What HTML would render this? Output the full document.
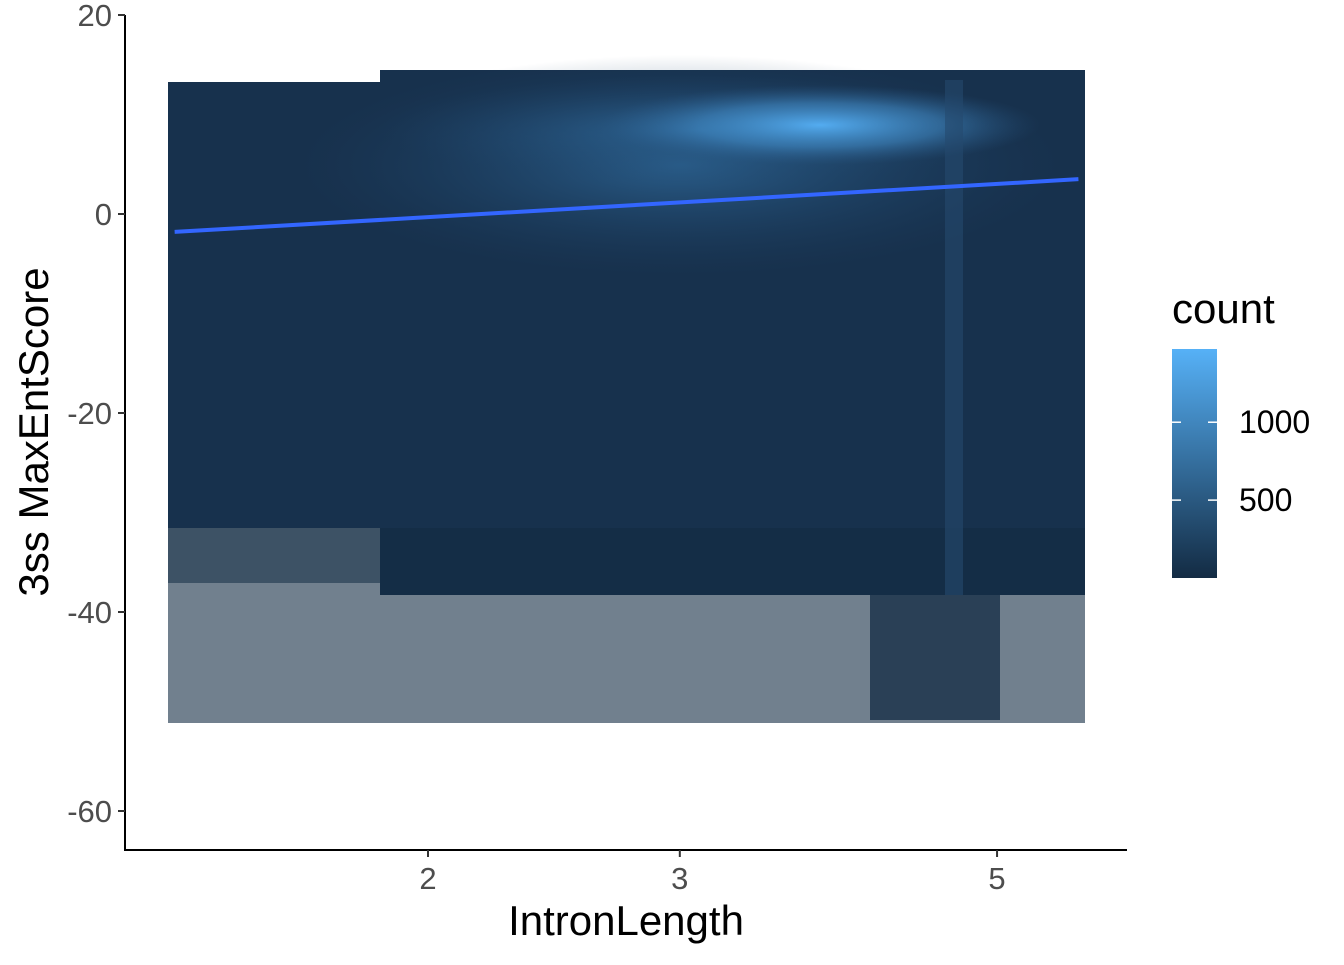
<!DOCTYPE html>
<html><head><meta charset="utf-8"><style>
body{margin:0;background:#fff;}
svg text{font-family:"Liberation Sans",sans-serif;}
</style></head><body>
<svg id="chart" width="1344" height="960" viewBox="0 0 1344 960">
<defs>
<radialGradient id="glow" cx="0.5" cy="0.5" r="0.5">
<stop offset="0" stop-color="#56B1F7" stop-opacity="0.95"/>
<stop offset="0.55" stop-color="#3f86c0" stop-opacity="0.6"/>
<stop offset="1" stop-color="#2a5a88" stop-opacity="0"/>
</radialGradient>
<radialGradient id="glow2" cx="0.5" cy="0.5" r="0.5">
<stop offset="0" stop-color="#2f6a9c" stop-opacity="0.8"/>
<stop offset="1" stop-color="#1e4266" stop-opacity="0"/>
</radialGradient>
<linearGradient id="cbar" x1="0" y1="1" x2="0" y2="0">
<stop offset="0" stop-color="#132B43"/>
<stop offset="1" stop-color="#56B1F7"/>
</linearGradient>
</defs>
<g id="plot"></g>
<g id="axes"></g>
<text x="626" y="935" font-size="42" text-anchor="middle" fill="#000">IntronLength</text>
<text transform="translate(48,432) rotate(-90)" font-size="42" text-anchor="middle" fill="#000">3ss MaxEntScore</text>
<g>
<text x="1172" y="323" font-size="42" fill="#000">count</text>
<rect x="1172" y="349" width="45" height="229" fill="url(#cbar)"/>
<g id="legendTicks"></g>
</g>
</svg>
<script>
const yTicks=[20,0,-20,-40,-60];
const xTicks=[2,3,5];
const lineX=[1.33,5.7];
const lineY=[-1.8,3.5];
const legendTicks=[500,1000];
const countMin=0, countMax=1470;
const NS="http://www.w3.org/2000/svg";
const X=v=>428+(Math.log10(v)-Math.log10(2))*1430;
const Y=v=>214-v*9.95;
function mk(tag,attrs,parent){const e=document.createElementNS(NS,tag);for(const k in attrs)e.setAttribute(k,attrs[k]);parent.appendChild(e);return e;}
const plot=document.getElementById('plot');
let r=mk('rect',{x:168,y:82,width:917,height:446,fill:'#17314d'},plot);


r=mk('rect',{x:380,y:70,width:705,height:525,fill:'#17314d'},plot);


r=mk('rect',{x:168,y:528,width:917,height:195,fill:'#132B43',opacity:0.6},plot);


r=mk('rect',{x:870,y:595,width:130,height:125,fill:'#132B43',opacity:0.75},plot);


r=mk('rect',{x:168,y:528,width:212,height:55,fill:'#132B43',opacity:0.55},plot);


r=mk('ellipse',{cx:680,cy:165,rx:380,ry:110,fill:'url(#glow2)'},plot);


r=mk('ellipse',{cx:700,cy:130,rx:320,ry:55,fill:'url(#glow2)'},plot);


r=mk('ellipse',{cx:820,cy:125,rx:220,ry:40,fill:'url(#glow)'},plot);


r=mk('rect',{x:945,y:80,width:18,height:515,fill:'#24496e',opacity:0.6},plot);


const ln=mk('line',{x1:X(lineX[0]),y1:Y(lineY[0]),x2:X(lineX[1]),y2:Y(lineY[1]),stroke:'#3366FF','stroke-width':4},plot);


const axes=document.getElementById('axes');
let a=mk('line',{x1:125,y1:15,x2:125,y2:851,stroke:'#000','stroke-width':2},axes);


a=mk('line',{x1:124,y1:850,x2:1127,y2:850,stroke:'#000','stroke-width':2},axes);


yTicks.forEach(t=>{
 const y=Y(t);
 const tk=mk('line',{x1:118,y1:y,x2:125,y2:y,stroke:'#333','stroke-width':2},axes);
 
 
 const tx=mk('text',{x:112,y:y+11,'font-size':31,'text-anchor':'end',fill:'#4d4d4d'},axes);
 tx.textContent=t;
 
 
});
xTicks.forEach(t=>{
 const x=X(t);
 const tk=mk('line',{x1:x,y1:850,x2:x,y2:857,stroke:'#333','stroke-width':2},axes);
 
 
 const tx=mk('text',{x:x,y:889,'font-size':31,'text-anchor':'middle',fill:'#4d4d4d'},axes);
 tx.textContent=t;
 
 
});
const lg=document.getElementById('legendTicks');
const C=v=>578-(v-countMin)/(countMax-countMin)*229;
legendTicks.forEach(t=>{
 const y=C(t);
 let l=mk('line',{x1:1172,y1:y,x2:1181,y2:y,stroke:'#fff','stroke-width':1.5},lg);
 
 
 l=mk('line',{x1:1208,y1:y,x2:1217,y2:y,stroke:'#fff','stroke-width':1.5},lg);
 
 
 const tx=mk('text',{x:1239,y:y+11,'font-size':32,fill:'#000'},lg);
 tx.textContent=t;
 
 
});
</script>
</body></html>
